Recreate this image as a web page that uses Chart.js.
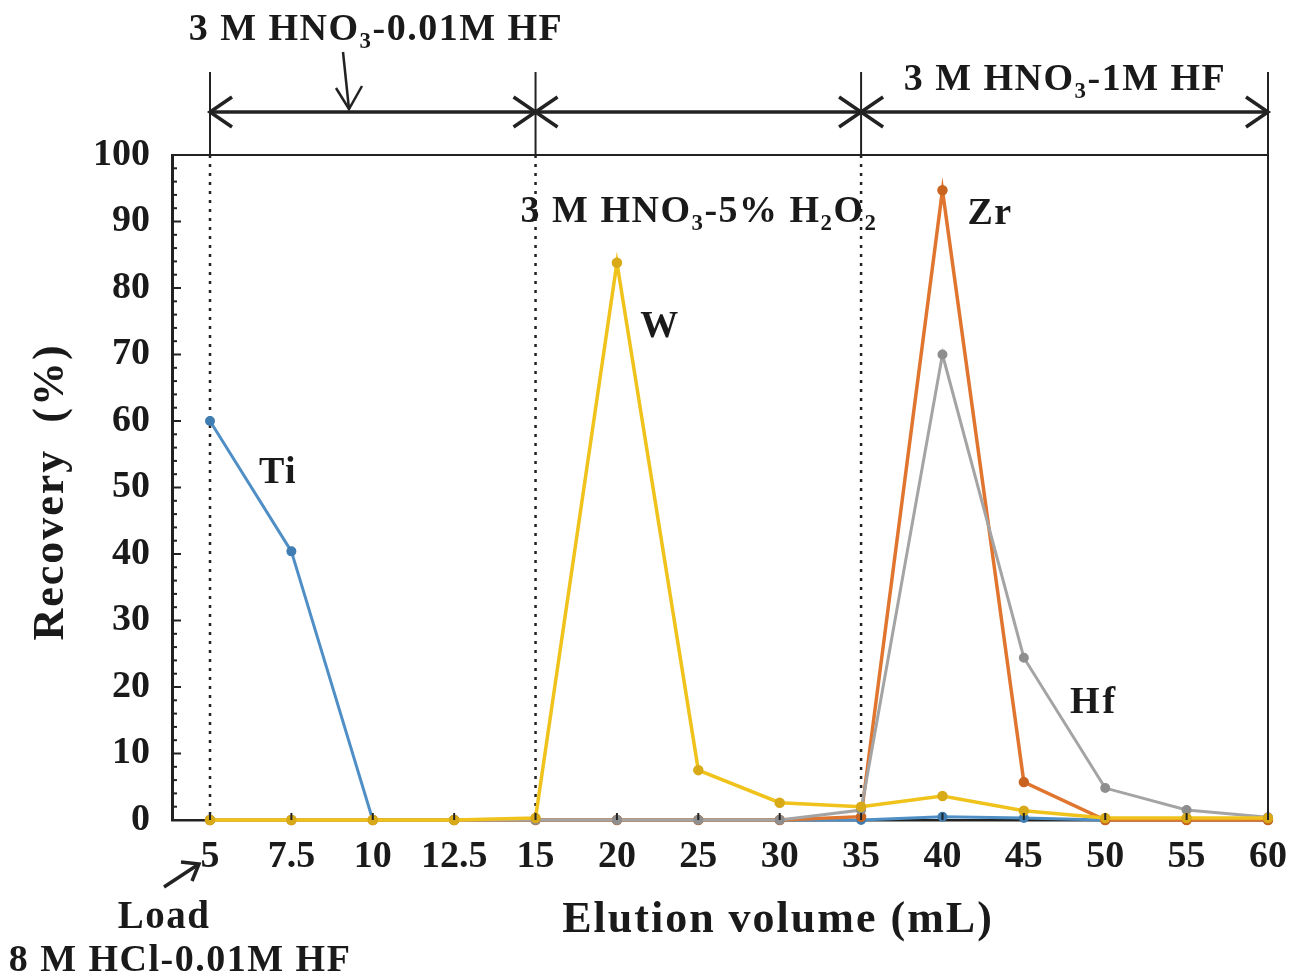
<!DOCTYPE html>
<html>
<head>
<meta charset="utf-8">
<script src="https://cdn.jsdelivr.net/npm/chart.js@4.4.1/dist/chart.umd.min.js"></script>
<style>
  html, body { margin: 0; padding: 0; background: #fff; }
  #wrap { width: 1307px; height: 979px; position: relative; }
</style>
</head>
<body>
<div id="wrap"><canvas id="chart"></canvas></div>
<script>
// Elution volumes (mL), evenly spaced categories
const volumes = ['5', '7.5', '10', '12.5', '15', '20', '25', '30', '35', '40', '45', '50', '55', '60'];

// Recovery (%) for each element
const tiValues = [60, 40.4, 0, 0, 0, 0, 0, 0, 0, 0.5, 0.3, 0, 0, 0];
const wValues  = [0, 0, 0, 0, 0.3, 83.8, 7.5, 2.6, 2.0, 3.6, 1.4, 0.3, 0.3, 0.3];
const zrValues = [0, 0, 0, 0, 0, 0, 0, 0, 0.5, 94.7, 5.7, 0, 0, 0];
const hfValues = [0, 0, 0, 0, 0, 0, 0, 0, 1.5, 70, 24.4, 4.8, 1.5, 0.4];

// Y axis ticks
const yMin = 0;
const yMax = 100;
const yStep = 10;

const serif = '"Liberation Serif", "Times New Roman", serif';

function toPoints(values) {
    return values.map((v, i) => ({ x: i, y: v }));
}

function makeDataset(label, values, color, dark, width) {
    return {
        label: label,
        data: toPoints(values),
        borderColor: color,
        backgroundColor: dark,
        pointBackgroundColor: dark,
        pointBorderColor: dark,
        pointRadius: 3.5,
        borderWidth: width,
        tension: 0,
        clip: false
    };
}

// Draw text with subscript parts, centred on cx, at baseline y
function drawRich(ctx, parts, cx, y, size, spacing) {
    ctx.letterSpacing = (spacing || 0) + 'px';
    let total = 0;
    parts.forEach(p => {
        ctx.font = 'bold ' + (p.sub ? size * 0.6 : size) + 'px ' + serif;
        p.w = ctx.measureText(p.t).width;
        total += p.w;
    });
    let x = cx - total / 2;
    ctx.textAlign = 'left';
    ctx.textBaseline = 'alphabetic';
    ctx.fillStyle = '#1a1a1a';
    parts.forEach(p => {
        ctx.font = 'bold ' + (p.sub ? size * 0.6 : size) + 'px ' + serif;
        ctx.fillText(p.t, x, y + (p.sub ? size * 0.22 : 0));
        x += p.w;
    });
    ctx.letterSpacing = '0px';
}

function line(ctx, x1, y1, x2, y2) {
    ctx.beginPath();
    ctx.moveTo(x1, y1);
    ctx.lineTo(x2, y2);
    ctx.stroke();
}

// Chevron arrow head with its tip at (x, y), dir = -1 points left, 1 points right
function chevron(ctx, x, y, dir) {
    ctx.beginPath();
    ctx.moveTo(x - dir * 22, y - 15);
    ctx.lineTo(x, y);
    ctx.lineTo(x - dir * 22, y + 15);
    ctx.stroke();
}

// Frame, inward ticks, dotted dividers, eluent brackets and titles
const decorations = {
    id: 'decorations',
    beforeDatasetsDraw(chart) {
        const { ctx, chartArea, scales } = chart;
        const xs = scales.x;
        ctx.save();
        ctx.strokeStyle = '#222';
        ctx.lineWidth = 2.5;
        ctx.setLineDash([3, 6]);
        [0, 4, 8].forEach(i => {
            const px = xs.getPixelForValue(i);
            line(ctx, px, chartArea.top, px, chartArea.bottom);
        });
        ctx.restore();
    },
    afterDraw(chart) {
        const { ctx, chartArea, scales } = chart;
        const xs = scales.x;
        const ys = scales.y;
        ctx.save();
        ctx.strokeStyle = '#222';
        ctx.lineWidth = 2;

        // top and right frame
        line(ctx, chartArea.left, chartArea.top, chartArea.right, chartArea.top);
        line(ctx, chartArea.right, chartArea.top, chartArea.right, chartArea.bottom);

        // inward y ticks: major every 10, minor every 2
        for (let v = yMin; v <= yMax; v += 2) {
            const py = ys.getPixelForValue(v);
            const len = v % 10 === 0 ? 9 : 5;
            line(ctx, chartArea.left, py, chartArea.left + len, py);
        }
        // inward x ticks
        volumes.forEach((v, i) => {
            const px = xs.getPixelForValue(i);
            line(ctx, px, chartArea.bottom, px, chartArea.bottom - 7);
        });

        // eluent brackets above the plot
        const bracketY = 112;
        ctx.lineWidth = 2;
        [0, 4, 8, 13].forEach(i => {
            const px = xs.getPixelForValue(i);
            line(ctx, px, 72, px, chartArea.top);
        });
        ctx.lineWidth = 3.5;
        line(ctx, xs.getPixelForValue(0), bracketY, xs.getPixelForValue(13), bracketY);
        chevron(ctx, xs.getPixelForValue(0), bracketY, -1);
        chevron(ctx, xs.getPixelForValue(4), bracketY, 1);
        chevron(ctx, xs.getPixelForValue(4), bracketY, -1);
        chevron(ctx, xs.getPixelForValue(8), bracketY, 1);
        chevron(ctx, xs.getPixelForValue(8), bracketY, -1);
        chevron(ctx, xs.getPixelForValue(13), bracketY, 1);

        // down arrow under the first eluent label
        ctx.lineWidth = 2.5;
        line(ctx, 343, 52, 349, 109);
        ctx.beginPath();
        ctx.moveTo(336, 88);
        ctx.lineTo(349, 109);
        ctx.lineTo(362, 86);
        ctx.stroke();

        // load arrow
        ctx.lineWidth = 3.5;
        line(ctx, 164, 887, 199, 864);
        ctx.beginPath();
        ctx.moveTo(181, 862);
        ctx.lineTo(199, 864);
        ctx.lineTo(192, 881);
        ctx.stroke();

        // labels
        drawRich(ctx, [{ t: '3 M HNO' }, { t: '3', sub: true }, { t: '-0.01M HF' }], 376, 40, 38, 1.5);
        drawRich(ctx, [{ t: '3 M HNO' }, { t: '3', sub: true }, { t: '-1M HF' }], 1065, 90, 38, 1.5);
        drawRich(ctx, [{ t: '3 M HNO' }, { t: '3', sub: true }, { t: '-5% H' }, { t: '2', sub: true }, { t: 'O' }, { t: '2', sub: true }], 699, 222, 38, 1.5);
        drawRich(ctx, [{ t: 'Zr' }], 990, 224, 38, 1.5);
        drawRich(ctx, [{ t: 'W' }], 660, 337, 38, 1.5);
        drawRich(ctx, [{ t: 'Ti' }], 278, 483, 38, 1.5);
        drawRich(ctx, [{ t: 'Hf' }], 1094, 713, 38, 3);
        drawRich(ctx, [{ t: 'Load' }], 164, 928, 39, 1.5);
        drawRich(ctx, [{ t: '8 M HCl-0.01M HF' }], 180, 971, 38, 1.5);

        // axis titles
        drawRich(ctx, [{ t: 'Elution volume (mL)' }], 778, 932, 44, 2);
        ctx.translate(48, 492);
        ctx.rotate(-Math.PI / 2);
        drawRich(ctx, [{ t: 'Recovery  (%)' }], 0, 15, 44, 2);
        ctx.restore();
    }
};

const ctx = document.getElementById('chart').getContext('2d');

new Chart(ctx, {
    type: 'line',
    data: {
        datasets: [
            makeDataset('W', wValues, '#f0c21c', '#d8aa18', 3.5),
            makeDataset('Hf', hfValues, '#a4a4a4', '#8e8e8e', 3),
            makeDataset('Zr', zrValues, '#e0752f', '#c8641f', 3.5),
            makeDataset('Ti', tiValues, '#4f8fc6', '#3f7db2', 3)
        ]
    },
    options: {
        responsive: true,
        maintainAspectRatio: false,
        animation: false,
        layout: { padding: { top: 155, right: 39, left: 0, bottom: 0 } },
        plugins: {
            legend: { display: false },
            tooltip: { enabled: false }
        },
        scales: {
            x: {
                type: 'linear',
                min: -0.467,
                max: volumes.length - 1,
                afterFit: s => { s.height = 159; },
                afterBuildTicks: s => { s.ticks = volumes.map((v, i) => ({ value: i })); },
                grid: { display: false, drawTicks: false },
                border: { display: true, color: '#222', width: 2.5 },
                ticks: {
                    autoSkip: false,
                    maxRotation: 0,
                    padding: 14,
                    color: '#1a1a1a',
                    font: { family: serif, size: 38, weight: 'bold' },
                    callback: v => volumes[v]
                }
            },
            y: {
                min: yMin,
                max: yMax,
                afterFit: s => { s.width = 172; },
                grid: { display: false, drawTicks: false },
                border: { display: true, color: '#222', width: 3 },
                ticks: {
                    stepSize: yStep,
                    padding: 22,
                    color: '#1a1a1a',
                    font: { family: serif, size: 38, weight: 'bold' }
                }
            }
        }
    },
    plugins: [decorations]
});
</script>
</body>
</html>
